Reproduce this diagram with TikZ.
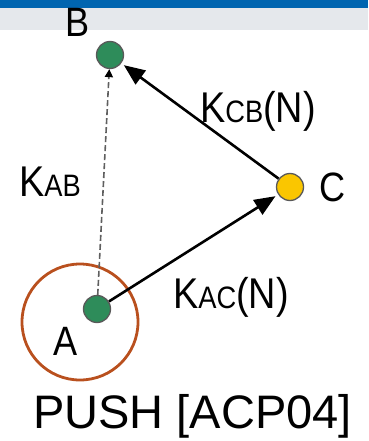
\documentclass[tikz,border=0pt]{standalone}
\usepackage{fontspec}
\setmainfont{Liberation Sans}
\usetikzlibrary{arrows.meta}

\definecolor{barblue}{RGB}{0,101,176}
\definecolor{bargrey}{RGB}{229,232,236}
\definecolor{nodegreen}{RGB}{46,140,90}
\definecolor{nodeyellow}{RGB}{250,198,0}
\definecolor{ringbrown}{RGB}{185,80,30}
\definecolor{dashgrey}{RGB}{95,95,95}

\newcommand{\bigK}[3]{{\fontsize{43}{43}\selectfont #1}{\fontsize{31}{31}\selectfont #2}{\fontsize{43}{43}\selectfont #3}}

\tikzset{
  dot/.style={circle, minimum size=27pt, inner sep=0pt, draw=gray!70!black, line width=1.3pt},
  lbl/.style={inner sep=0pt, xscale=0.88, font=\fontsize{41}{41}\selectfont},
  link/.style={draw=black, line width=2.6pt, -{Triangle[length=21pt,width=17pt]}, shorten >=3pt},
  weak/.style={draw=dashgrey, line width=1.6pt, dash pattern=on 6pt off 3pt,
               -{Triangle[length=8pt,width=8pt,color=black]}},
}

\begin{document}
\begin{tikzpicture}[x=1pt, y=-1pt]
  \useasboundingbox (0,0) rectangle (368,441);

  % header bars
  \fill[barblue] (0,0) rectangle (368,8);
  \fill[bargrey] (0,8) rectangle (368,30);

  % range circle around A
  \node[circle, draw=ringbrown, line width=2.8pt, minimum size=116pt, inner sep=0pt] (ring) at (80,322) {};

  % peers
  \node[dot, fill=nodegreen]  (B) at (110,55)  {};
  \node[dot, fill=nodeyellow] (C) at (290,187) {};
  \node[dot, fill=nodegreen]  (A) at (97,309)  {};

  % links
  \draw[weak] (A) -- (B);
  \draw[link] (A) -- (C);
  \draw[link] (C) -- (B);

  % labels
  \node[lbl, anchor=base] (lB) at (78,37)  {B};
  \node[lbl, anchor=base] (lC) at (333,201) {C};
  \node[lbl, anchor=base] (lA) at (66,355) {A};
  \node[inner sep=0pt, xscale=0.88, anchor=base west] (kab) at (19,196) {\bigK{K}{AB}{}};
  \node[inner sep=0pt, xscale=0.88, anchor=base west] (kac) at (173,308) {\bigK{K}{AC}{(N)}};
  \node[inner sep=0pt, xscale=0.88, anchor=base west] (kcb) at (200,122) {\bigK{K}{CB}{(N)}};

  \node[inner sep=0pt, anchor=base west, font=\fontsize{47}{47}\selectfont] (cap) at (33,428) {PUSH [ACP04]};
\end{tikzpicture}
\end{document}
